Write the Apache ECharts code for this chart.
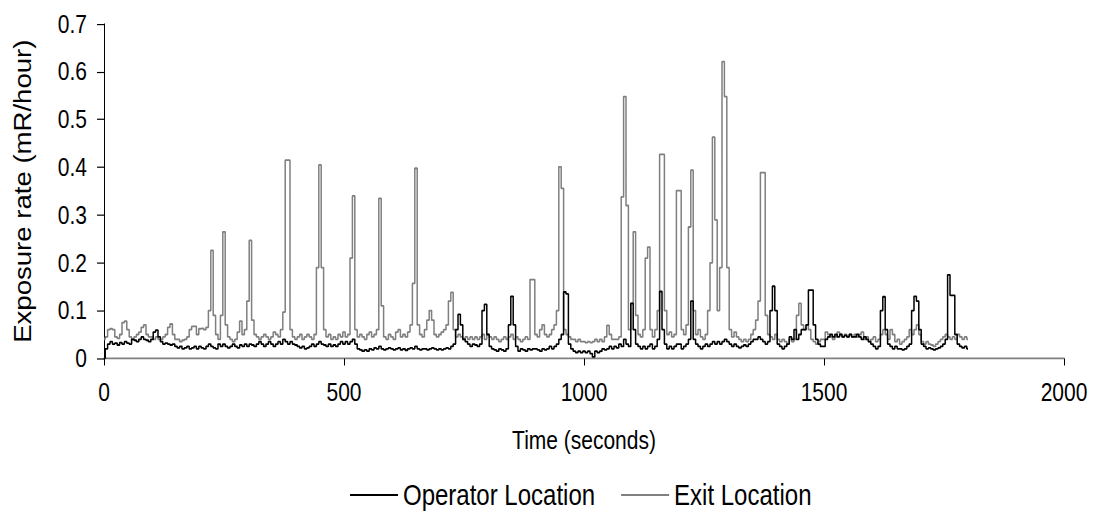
<!DOCTYPE html>
<html>
<head>
<meta charset="utf-8">
<script src="https://cdn.jsdelivr.net/npm/echarts@6/dist/echarts.min.js"></script>
<style>
html,body{margin:0;padding:0;background:#fff;overflow:hidden}
#wrap{width:1094px;height:525px;overflow:hidden}
#c{width:1094px;height:438px;transform:scaleY(1.19863);transform-origin:0 0}
</style>
</head>
<body>
<div id="wrap"><div id="c"></div></div>
<script>
// Sampling step of the readings (seconds)
const stepSeconds = 5;
const seriesNames = ['Operator Location', 'Exit Location'];
const xTicks = [0, 500, 1000, 1500, 2000];
const yTicks = [0, 0.1, 0.2, 0.3, 0.4, 0.5, 0.6, 0.7];

// Operator Location, one value per 5 s, t = 0 .. 1800
const operatorValues = [
 0.000,0.020,0.030,0.035,0.030,0.032,0.028,0.033,0.030,0.035,0.032,0.030,0.040,0.038,0.035,0.040,0.045,0.040,0.038,0.035,
 0.040,0.055,0.059,0.045,0.035,0.030,0.032,0.030,0.028,0.030,0.025,0.022,0.025,0.020,0.022,0.025,0.020,0.022,0.025,0.020,
 0.025,0.022,0.020,0.025,0.030,0.025,0.022,0.020,0.030,0.025,0.030,0.025,0.022,0.025,0.030,0.025,0.022,0.028,0.025,0.030,
 0.025,0.030,0.028,0.025,0.030,0.035,0.030,0.025,0.030,0.035,0.030,0.025,0.030,0.035,0.030,0.040,0.035,0.030,0.035,0.030,
 0.028,0.025,0.022,0.025,0.020,0.022,0.025,0.030,0.025,0.030,0.035,0.030,0.028,0.025,0.030,0.025,0.028,0.025,0.030,0.035,
 0.030,0.035,0.030,0.035,0.040,0.030,0.020,0.018,0.015,0.018,0.015,0.020,0.018,0.022,0.020,0.025,0.020,0.018,0.020,0.022,
 0.020,0.018,0.020,0.022,0.018,0.020,0.017,0.020,0.022,0.020,0.025,0.020,0.018,0.020,0.020,0.018,0.020,0.022,0.020,0.018,
 0.020,0.018,0.020,0.022,0.020,0.025,0.030,0.060,0.092,0.070,0.040,0.035,0.030,0.025,0.030,0.028,0.025,0.030,0.100,0.113,
 0.050,0.025,0.020,0.018,0.015,0.020,0.018,0.015,0.020,0.070,0.130,0.070,0.025,0.015,0.020,0.018,0.015,0.020,0.018,0.020,
 0.020,0.018,0.015,0.020,0.018,0.020,0.025,0.020,0.025,0.030,0.040,0.050,0.139,0.135,0.030,0.020,0.015,0.012,0.015,0.012,
 0.015,0.012,0.015,0.010,0.003,0.015,0.012,0.015,0.020,0.018,0.020,0.025,0.020,0.025,0.022,0.030,0.025,0.040,0.030,0.025,
 0.115,0.060,0.030,0.025,0.020,0.025,0.020,0.025,0.030,0.020,0.025,0.040,0.140,0.060,0.030,0.020,0.025,0.020,0.025,0.030,
 0.030,0.020,0.025,0.030,0.040,0.120,0.040,0.030,0.025,0.020,0.025,0.030,0.025,0.030,0.035,0.030,0.035,0.030,0.035,0.040,
 0.035,0.030,0.025,0.030,0.025,0.022,0.025,0.028,0.025,0.030,0.035,0.040,0.040,0.045,0.040,0.035,0.030,0.035,0.100,0.151,
 0.100,0.030,0.025,0.020,0.025,0.030,0.045,0.040,0.060,0.040,0.050,0.060,0.060,0.070,0.143,0.143,0.070,0.040,0.030,0.025,
 0.025,0.040,0.045,0.050,0.045,0.050,0.045,0.050,0.045,0.048,0.045,0.050,0.045,0.045,0.050,0.045,0.040,0.045,0.040,0.035,
 0.030,0.025,0.020,0.025,0.100,0.129,0.060,0.030,0.025,0.020,0.025,0.020,0.020,0.018,0.020,0.025,0.030,0.100,0.130,0.120,
 0.060,0.030,0.025,0.020,0.022,0.020,0.018,0.020,0.022,0.025,0.030,0.040,0.175,0.132,0.132,0.050,0.030,0.025,0.022,0.025,
 0.020
];

// Exit Location, one value per 5 s, t = 0 .. 1800
const exitValues = [
 0.040,0.045,0.060,0.062,0.060,0.045,0.042,0.050,0.075,0.078,0.060,0.045,0.040,0.045,0.050,0.055,0.065,0.070,0.050,0.045,
 0.045,0.040,0.045,0.040,0.040,0.045,0.050,0.065,0.072,0.050,0.040,0.040,0.035,0.038,0.040,0.045,0.060,0.067,0.067,0.050,
 0.062,0.063,0.060,0.065,0.100,0.226,0.090,0.050,0.040,0.090,0.265,0.070,0.045,0.040,0.035,0.040,0.055,0.078,0.050,0.060,
 0.120,0.247,0.080,0.050,0.045,0.040,0.045,0.050,0.045,0.040,0.045,0.055,0.050,0.045,0.060,0.097,0.415,0.415,0.060,0.045,
 0.040,0.045,0.050,0.040,0.045,0.050,0.045,0.040,0.050,0.190,0.405,0.190,0.060,0.045,0.050,0.040,0.045,0.040,0.050,0.045,
 0.055,0.045,0.050,0.210,0.340,0.060,0.045,0.050,0.045,0.040,0.050,0.055,0.045,0.050,0.060,0.335,0.110,0.045,0.040,0.050,
 0.045,0.040,0.055,0.060,0.045,0.050,0.045,0.055,0.070,0.157,0.398,0.070,0.050,0.045,0.060,0.080,0.100,0.080,0.050,0.045,
 0.050,0.055,0.060,0.070,0.120,0.138,0.060,0.045,0.050,0.045,0.040,0.045,0.040,0.045,0.040,0.045,0.040,0.045,0.050,0.040,
 0.050,0.045,0.040,0.045,0.040,0.035,0.040,0.045,0.040,0.045,0.050,0.040,0.045,0.040,0.035,0.040,0.045,0.040,0.165,0.165,
 0.050,0.045,0.060,0.070,0.050,0.045,0.050,0.060,0.070,0.100,0.401,0.356,0.060,0.050,0.045,0.040,0.040,0.035,0.040,0.035,
 0.035,0.033,0.035,0.033,0.035,0.040,0.035,0.040,0.035,0.045,0.069,0.050,0.040,0.040,0.040,0.045,0.338,0.548,0.320,0.060,
 0.115,0.265,0.090,0.050,0.045,0.060,0.210,0.233,0.060,0.045,0.060,0.100,0.427,0.427,0.100,0.050,0.055,0.045,0.050,0.351,
 0.351,0.060,0.050,0.070,0.275,0.394,0.100,0.050,0.060,0.045,0.040,0.050,0.100,0.200,0.463,0.290,0.100,0.190,0.621,0.548,
 0.190,0.060,0.045,0.055,0.045,0.040,0.035,0.040,0.035,0.040,0.050,0.060,0.080,0.120,0.389,0.389,0.090,0.050,0.045,0.040,
 0.050,0.040,0.035,0.040,0.035,0.030,0.040,0.035,0.040,0.090,0.115,0.070,0.060,0.070,0.060,0.040,0.035,0.030,0.035,0.040,
 0.040,0.055,0.050,0.045,0.040,0.045,0.055,0.050,0.045,0.050,0.045,0.050,0.045,0.050,0.045,0.050,0.055,0.040,0.045,0.035,
 0.040,0.045,0.035,0.040,0.050,0.060,0.050,0.040,0.060,0.050,0.035,0.040,0.030,0.035,0.040,0.045,0.060,0.050,0.060,0.070,
 0.050,0.035,0.030,0.035,0.030,0.028,0.025,0.030,0.035,0.040,0.045,0.050,0.045,0.040,0.045,0.040,0.050,0.045,0.040,0.045,
 0.040
];

const toPairs = vals => vals.map((v, i) => [i * stepSeconds, v]);

const FONT = 'Liberation Sans, Arial, sans-serif';
const chart = echarts.init(document.getElementById('c'), null, {renderer: 'svg'});
chart.setOption({
  animation: false,
  backgroundColor: '#fff',
  grid: {left: 104, right: 30, top: 20, bottom: 139, containLabel: false},
  legend: {
    top: 396, left: 345,
    itemWidth: 48, itemHeight: 14, itemGap: 26,
    icon: 'path://M0,6.2 L48,6.2 L48,7.8 L0,7.8 Z',
    textStyle: {fontFamily: FONT, fontSize: 24, color: '#000'},
    data: [
      {name: seriesNames[0], itemStyle: {color: '#000'}},
      {name: seriesNames[1], itemStyle: {color: '#808080'}}
    ]
  },
  xAxis: {
    type: 'value', min: xTicks[0], max: xTicks[xTicks.length - 1], interval: 500,
    name: 'Time (seconds)', nameLocation: 'middle', nameGap: 58,
    nameTextStyle: {fontFamily: FONT, fontSize: 21, color: '#000'},
    axisLine: {show: true, lineStyle: {color: '#808080', width: 1.5}},
    axisTick: {show: true, length: 6, lineStyle: {color: '#000', width: 1}},
    axisLabel: {fontFamily: FONT, fontSize: 21, color: '#000', margin: 18,
      formatter: v => String(v)},
    splitLine: {show: false}
  },
  yAxis: {
    type: 'value', min: yTicks[0], max: yTicks[yTicks.length - 1], interval: 0.1,
    name: 'Exposure rate (mR/hour)', nameLocation: 'middle', nameGap: 70,
    nameTextStyle: {fontFamily: FONT, fontSize: 23, color: '#000'},
    axisLine: {show: true, lineStyle: {color: '#000', width: 1}},
    axisTick: {show: true, length: 7, lineStyle: {color: '#000', width: 1}},
    axisLabel: {fontFamily: FONT, fontSize: 21, color: '#000', margin: 17,
      formatter: v => (Math.round(v * 10) / 10).toString()},
    splitLine: {show: false}
  },
  series: [
    {
      name: seriesNames[1], type: 'line', step: 'middle', showSymbol: false,
      data: toPairs(exitValues),
      lineStyle: {color: '#7f7f7f', width: 1.5}, itemStyle: {color: '#7f7f7f'}, z: 2
    },
    {
      name: seriesNames[0], type: 'line', step: 'middle', showSymbol: false,
      data: toPairs(operatorValues),
      lineStyle: {color: '#000', width: 1.5}, itemStyle: {color: '#000'}, z: 3
    }
  ]
});
</script>
</body>
</html>
